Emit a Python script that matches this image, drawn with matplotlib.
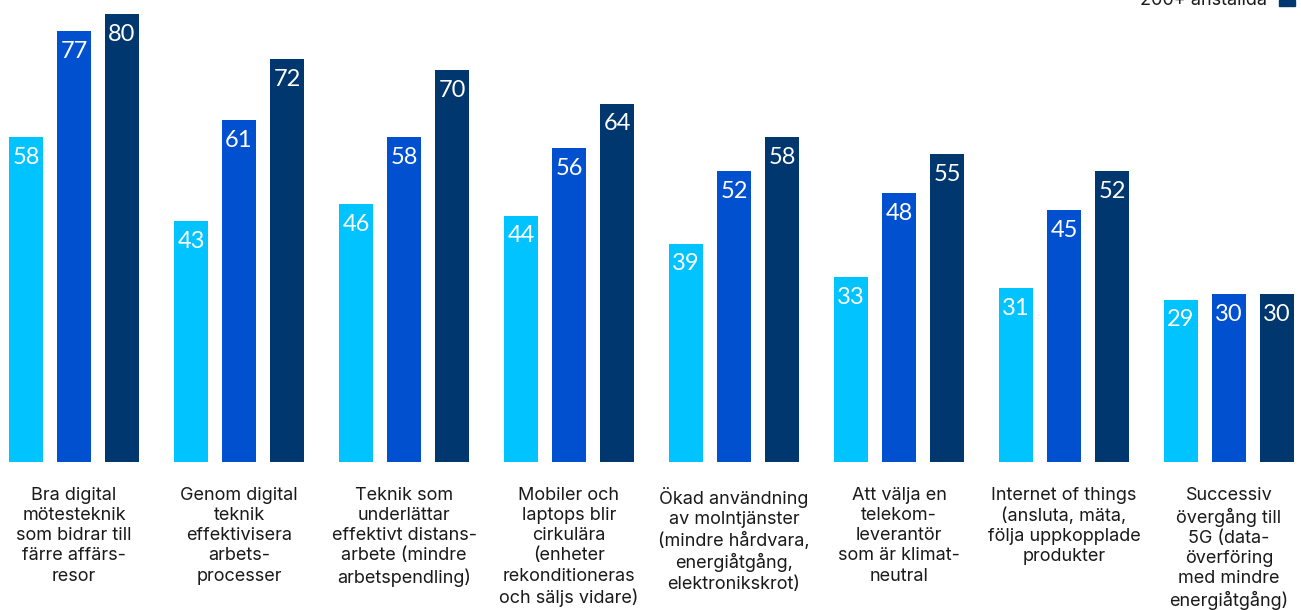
import matplotlib
matplotlib.use('Agg')
import matplotlib.pyplot as plt
import numpy as np

# data
kategorier = [
    "Bra digital\nmötesteknik\nsom bidrar till\nfärre affärs-\nresor",
    "Genom digital\nteknik\neffektivisera\narbets-\nprocesser",
    "Teknik som\nunderlättar\neffektivt distans-\narbete (mindre\narbetspendling)",
    "Mobiler och\nlaptops blir\ncirkulära\n(enheter\nrekonditioneras\noch säljs vidare)",
    "Ökad användning\nav molntjänster\n(mindre hårdvara,\nenergiåtgång,\nelektronikskrot)",
    "Att välja en\ntelekom-\nleverantör\nsom är klimat-\nneutral",
    "Internet of things\n(ansluta, mäta,\nfölja uppkopplade\nprodukter",
    "Successiv\növergång till\n5G (data-\növerföring\nmed mindre\nenergiåtgång)",
]
liten = [58, 43, 46, 44, 39, 33, 31, 29]
mellan = [77, 61, 58, 56, 52, 48, 45, 30]
stor = [80, 72, 70, 64, 58, 55, 52, 30]

farger = ['#00C3FF', '#0050D0', '#00376E']

W, H = 1301, 610
fig = plt.figure(figsize=(W / 100, H / 100), dpi=100)
bottom_px = 148
ax = fig.add_axes([0, bottom_px / H, 1, 1 - bottom_px / H])

x = np.arange(len(kategorier))
bredd = 34 / 165
steg = 48 / 165

for i, (serie, farg) in enumerate(zip([liten, mellan, stor], farger)):
    pos = x + (i - 1) * steg
    ax.bar(pos, serie, width=bredd, color=farg)
    for p, v in zip(pos, serie):
        ax.annotate(str(v), (p, v), xytext=(0, -7), textcoords='offset points',
                    ha='center', va='top', color='white', fontsize=17,
                    family='Lato', fontweight='normal')

ax.set_xlim((0 - 74) / 165, (W - 74) / 165)
ax.set_ylim(0, (H - bottom_px) / 5.6)
ax.axis('off')

for xi, lab in zip(x, kategorier):
    ax.text(xi, -4.4, lab, ha='center', va='top', fontsize=13,
            family='Inter', color='#1a1a1a', linespacing=1.25)

# legend (cut off at top)
fig.text(1267 / W, 1 - 5 / H, "200+ anställda", ha='right', va='baseline',
         fontsize=13, family='Inter', color='#1a1a1a')
fig.patches.append(plt.Rectangle((1279 / W, 1 - 6 / H), 16 / W, 6 / H,
                                 transform=fig.transFigure, color=farger[2]))

fig.savefig('out.png', dpi=100)
